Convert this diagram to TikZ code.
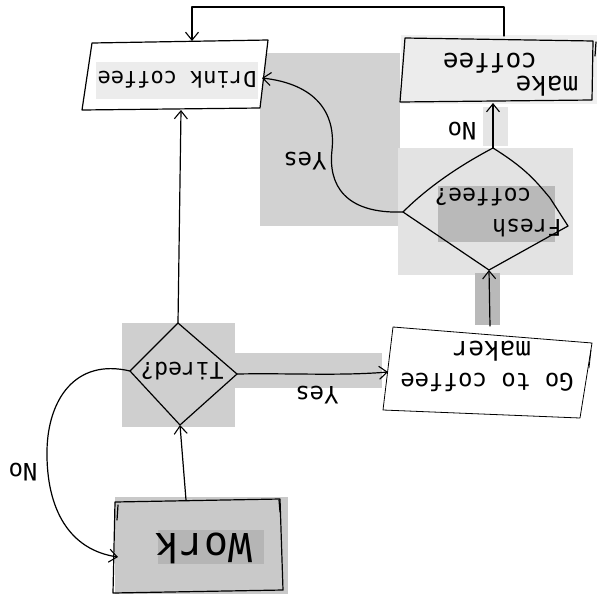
\documentclass[tikz,border=0pt]{standalone}
\usepackage{fontspec}
\newfontfamily\hand{DejaVu Sans Mono}
\usetikzlibrary{arrows.meta}
\begin{document}
\begin{tikzpicture}[x=1pt,y=-1pt,
  ink/.style={line width=1.2pt,line join=round,line cap=round},
  flow/.style={ink,-{Straight Barb[length=8pt,width=13pt,line width=1.1pt]}},
  txt/.style={rotate=180,font=\hand\fontsize{23}{25}\selectfont,inner sep=0pt},
  lbl/.style={rotate=180,font=\hand\fontsize{24}{26}\selectfont,inner sep=0pt}]
\useasboundingbox (0,0) rectangle (600,600);
\fill[white] (0,0) rectangle (600,600);

% shaded panels behind the shapes
\fill[gray!35] (260,53) rectangle (400,226);
\fill[gray!22] (398,148) rectangle (573,275);
\fill[gray!55] (438,186) rectangle (555,242);
\fill[gray!20] (483,107) rectangle (508,146);
\fill[gray!55] (475,273) rectangle (500,325);
\fill[gray!12] (401,35) rectangle (597,104);
\fill[gray!38] (122,323) rectangle (235,427);
\fill[gray!38] (235,353) rectangle (382,388);
\fill[gray!42] (115,497) rectangle (288,594);
\fill[gray!58] (158,530) rectangle (264,564);

% corner points of the hand-drawn shapes
\coordinate (d1) at (92,43);  \coordinate (d2) at (268,40);
\coordinate (d3) at (260,108); \coordinate (d4) at (82,110);
\coordinate (m1) at (405,38); \coordinate (m2) at (593,41);
\coordinate (m3) at (592,100); \coordinate (m4) at (400,102);
\coordinate (fT) at (493,148); \coordinate (fR) at (568,226);
\coordinate (fB) at (489,270); \coordinate (fL) at (403,212);
\coordinate (g1) at (393,327); \coordinate (g2) at (592,343);
\coordinate (g3) at (580,418); \coordinate (g4) at (383,410);
\coordinate (tT) at (178,323); \coordinate (tR) at (237,374);
\coordinate (tB) at (180,425); \coordinate (tL) at (130,371);
\coordinate (w1) at (115,502); \coordinate (w2) at (280,499);
\coordinate (w3) at (283,590); \coordinate (w4) at (113,593);

% Drink coffee
\fill[white] (d1) -- (d2) -- (d3) -- (d4) -- cycle;
\fill[gray!15] (96,62) rectangle (258,99);
\draw[ink] (d1) -- (d2) -- (d3) -- (d4) -- cycle;
\node[txt,font=\hand\fontsize{22}{24}\selectfont] (drink) at (177,80) {Drink coffee};

% make coffee
\fill[gray!15] (m1) -- (m2) -- (m3) -- (m4) -- cycle;
\draw[ink] (m1) -- (m2) -- (m3) -- (m4) -- cycle;
\draw[ink] (596,42) -- (595,56);
\node[txt,font=\hand\fontsize{26}{28}\selectfont] (make1) at (547,86) {make};
\node[txt,font=\hand\fontsize{26}{28}\selectfont] (make2) at (490,63) {coffee};

% Fresh coffee?
\draw[ink] (fT) .. controls (525,168) and (535,180) .. (550,198) -- (fR)
  -- (fB) -- (fL) .. controls (425,190) and (455,168) .. (fT);
\node[txt] (fresh1) at (527,228) {Fresh};
\node[txt] (fresh2) at (483,197) {coffee?};

% Go to coffee maker
\fill[white] (g1) -- (g2) -- (g3) -- (g4) -- cycle;
\draw[ink,line width=0.8pt] (g1) -- (g2) -- (g3) -- (g4) -- cycle;
\draw[ink,line width=0.8pt] (591,350) -- (589,368);
\node[txt,font=\hand\fontsize{24}{26}\selectfont] (goto1) at (487,382) {Go to coffee};
\node[txt,font=\hand\fontsize{26}{28}\selectfont] (goto2) at (492,351) {maker};

% Tired?
\draw[ink] (tT) -- (tR) -- (tB) -- (tL) -- cycle;
\node[txt] (tired) at (182,371) {Tired?};

% Work
\draw[ink] (w1) -- (w2) -- (w3) -- (w4) -- cycle;
\draw[ink] (118,505) -- (117,520);
\draw[ink] (279,500) -- (280,512);
\node[txt,font=\hand\fontsize{40}{42}\selectfont] (work) at (204,548) {Work};

% connectors
\coordinate (loopR) at (504,36);
\coordinate (loopA) at (504,7);
\coordinate (loopB) at (192,7);
\coordinate (drinkTop) at (192,41);
\draw[flow] (loopR) -- (loopA) -- (loopB) -- (drinkTop);

\coordinate (drinkBot) at (181,110);
\draw[flow] (tT) -- (drinkBot);

\coordinate (drinkR) at (262,78);
\draw[flow] (fL) .. controls (345,214) and (328,185) .. (332,150)
  .. controls (336,112) and (315,84) .. (drinkR);
\node[lbl] (yes1) at (305,161) {Yes};

\coordinate (makeBot) at (493,103);
\draw[flow] (fT) -- (makeBot);
\node[lbl] (no1) at (462,131) {No};

\coordinate (gotoTop) at (490,326);
\draw[flow] (gotoTop) -- (fB);

\coordinate (gotoL) at (388,372);
\draw[flow] (tR) .. controls (290,373) and (340,376) .. (gotoL);
\node[lbl] (yes2) at (317,395) {Yes};

\coordinate (workL) at (118,557);
\draw[flow] (tL) .. controls (75,358) and (48,400) .. (47,450)
  .. controls (46,510) and (70,550) .. (workL);
\node[lbl] (no2) at (23,472) {No};

\coordinate (workTop) at (186,500);
\draw[flow] (workTop) -- (tB);
\end{tikzpicture}
\end{document}
